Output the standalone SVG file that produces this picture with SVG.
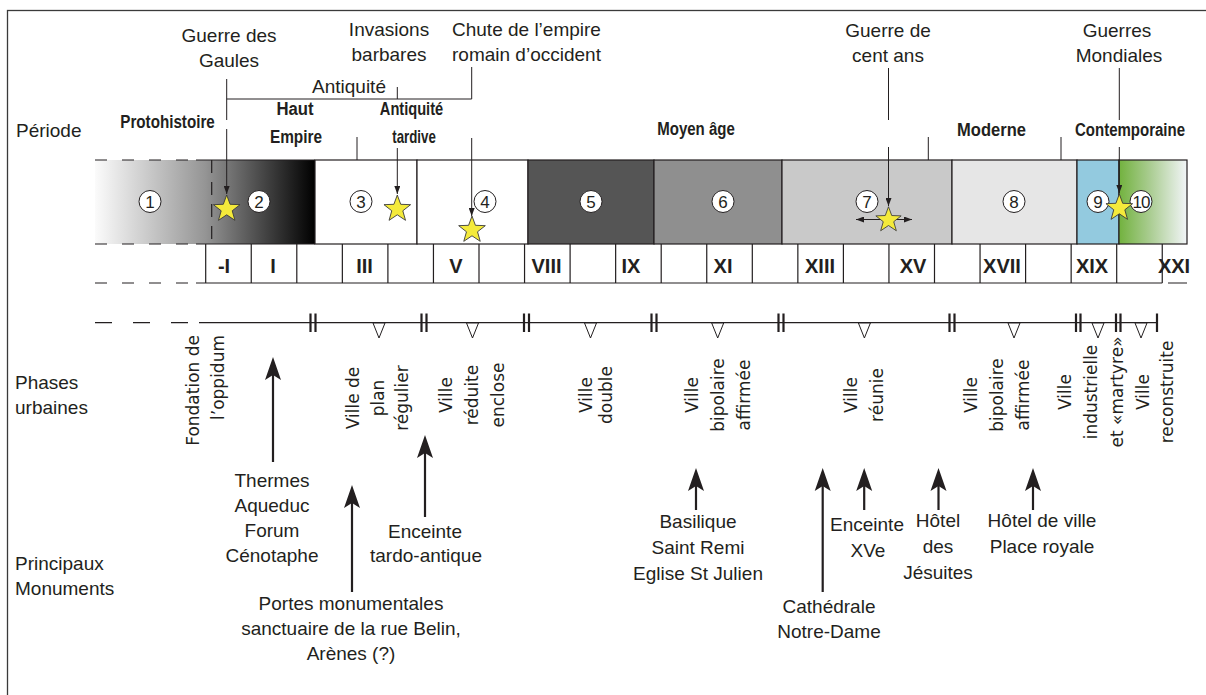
<svg xmlns="http://www.w3.org/2000/svg" width="1206" height="695" viewBox="0 0 1206 695">
<style>
 .t{font-family:"Liberation Sans",Arial,sans-serif;font-size:19px;fill:#231f20}
 .c{text-anchor:middle}
 .b{font-family:"Liberation Sans",Arial,sans-serif;font-weight:bold;font-size:19px;fill:#231f20;text-anchor:middle}
 .cen{font-family:"Liberation Sans",Arial,sans-serif;font-weight:bold;font-size:20px;fill:#231f20;text-anchor:middle}
 .v{font-family:"DejaVu Sans",sans-serif;font-size:17px;fill:#231f20;text-anchor:middle}
 .num{font-family:"Liberation Sans",Arial,sans-serif;font-size:17px;fill:#231f20;text-anchor:middle}
 .ln{stroke:#231f20;stroke-width:1;fill:none}
 .box{stroke:#231f20;stroke-width:1.2}
 .dash{stroke:#231f20;stroke-width:1.2;stroke-dasharray:12 15;fill:none}
 .thick{stroke:#231f20;stroke-width:2.2;fill:none}
 .bar{stroke:#231f20;stroke-width:2.2}
 .tri{fill:#fff;stroke:#231f20;stroke-width:1}
 .circ{fill:#fff;stroke:#231f20;stroke-width:1}
 .star{fill:#f4ea3b;stroke:#3a3a3a;stroke-width:0.9}
 .head{fill:#231f20}
</style>
<defs>
 <linearGradient id="gProto" x1="95" y1="0" x2="315" y2="0" gradientUnits="userSpaceOnUse">
  <stop offset="0" stop-color="#fbfbfb"/><stop offset="0.5" stop-color="#959595"/><stop offset="1" stop-color="#000"/>
 </linearGradient>
 <linearGradient id="gContemp" x1="1119" y1="0" x2="1187" y2="0" gradientUnits="userSpaceOnUse">
  <stop offset="0" stop-color="#72b23e"/><stop offset="0.45" stop-color="#a9cc90"/><stop offset="1" stop-color="#f2f5f8"/>
 </linearGradient>
 <path id="star" d="M0,-14 L3.41,-4.69 L13.32,-4.33 L5.52,1.79 L8.23,11.33 L0,5.8 L-8.23,11.33 L-5.52,1.79 L-13.32,-4.33 L-3.41,-4.69 Z"/>
 <path id="head" d="M0,0 L8,23 L0,18 L-8,23 Z"/>
 <marker id="sa" markerUnits="userSpaceOnUse" markerWidth="8" markerHeight="6" viewBox="0 0 8 6" refX="8" refY="3" orient="auto-start-reverse">
  <path d="M0,0 L8,3 L0,6 Z" fill="#231f20"/>
 </marker>
</defs>

<rect id="frame" x="7.5" y="10.5" width="1210" height="700" fill="#fff" stroke="#3a3a3a" stroke-width="1.3"/>

<g id="left-labels" class="t">
 <text x="16" y="137">Période</text>
 <text x="15" y="389">Phases</text>
 <text x="15" y="414">urbaines</text>
 <text x="15" y="570">Principaux</text>
 <text x="15" y="595">Monuments</text>
</g>

<g id="events" class="t c">
 <text x="229" y="41.5">Guerre des</text>
 <text x="229" y="66.5">Gaules</text>
 <text x="389" y="36">Invasions</text>
 <text x="389" y="61">barbares</text>
 <text x="452" y="36" style="text-anchor:start">Chute de l’empire</text>
 <text x="452" y="61" style="text-anchor:start">romain d’occident</text>
 <text x="349" y="92.5">Antiquité</text>
 <text x="888" y="37">Guerre de</text>
 <text x="888" y="62">cent ans</text>
 <text x="1117" y="37">Guerres</text>
 <text x="1119" y="62">Mondiales</text>
</g>

<g id="periods" class="b">
 <text transform="translate(167.5,128) scale(0.8,1)">Protohistoire</text>
 <text transform="translate(295,115) scale(0.88,1)">Haut</text>
 <text transform="translate(296,143) scale(0.81,1)">Empire</text>
 <text transform="translate(411.5,115) scale(0.77,1)">Antiquité</text>
 <text transform="translate(414,143) scale(0.7,1)">tardive</text>
 <text transform="translate(696,135) scale(0.79,1)">Moyen âge</text>
 <text transform="translate(991.5,136) scale(0.87,1)">Moderne</text>
 <text transform="translate(1130,136) scale(0.79,1)">Contemporaine</text>
</g>

<g id="band">
 <rect x="95" y="160" width="220" height="84" fill="url(#gProto)"/>
 <path class="ln" d="M196,160 H315 M196,244 H315" style="stroke-width:1.2"/>
 <path class="dash" d="M95,160 H196 M95,244 H196 M95,283 H196"/>
 <path class="ln" d="M211.7,160 V244" style="stroke-dasharray:13 9;stroke-width:1.2"/>
 <rect class="box" x="315" y="160" width="102" height="84" fill="#fff"/>
 <rect class="box" x="417" y="160" width="111" height="84" fill="#fff"/>
 <rect class="box" x="528" y="160" width="126" height="84" fill="#555"/>
 <rect class="box" x="654" y="160" width="128" height="84" fill="#8f8f8f"/>
 <rect class="box" x="782" y="160" width="170" height="84" fill="#c9c9c9"/>
 <rect class="box" x="952" y="160" width="125" height="84" fill="#e6e6e6"/>
 <rect class="box" x="1077" y="160" width="42" height="84" fill="#93cadf"/>
 <rect class="box" x="1119" y="160" width="68" height="84" fill="url(#gContemp)"/>
</g>

<g id="numbers">
 <g class="circ">
  <circle cx="150" cy="201.5" r="11"/><circle cx="259" cy="201.5" r="11"/><circle cx="361" cy="201.5" r="11"/>
  <circle cx="485" cy="201.5" r="11"/><circle cx="591" cy="201.5" r="11"/><circle cx="723" cy="201.5" r="11"/>
  <circle cx="867" cy="201.5" r="11"/><circle cx="1014" cy="201.5" r="11"/><circle cx="1098" cy="201.5" r="11"/>
  <circle cx="1141" cy="201.5" r="11"/>
 </g>
 <g class="num">
  <text x="150" y="207.5">1</text><text x="259" y="207.5">2</text><text x="361" y="207.5">3</text>
  <text x="485" y="207.5">4</text><text x="591" y="207.5">5</text><text x="723" y="207.5">6</text>
  <text x="867" y="207.5">7</text><text x="1014" y="207.5">8</text><text x="1098" y="207.5">9</text>
  <text x="1141" y="207.5" letter-spacing="-1">10</text>
 </g>
</g>

<g id="centuries">
 <path class="ln" style="stroke-width:1.2" d="M196,283 H1162.3 M1168,283 H1187 M205.7,244 V283 M251.25,244 V283 M296.8,244 V283 M342.35,244 V283 M387.9,244 V283 M433.45,244 V283 M479,244 V283 M524.55,244 V283 M570.1,244 V283 M615.65,244 V283 M661.2,244 V283 M706.75,244 V283 M752.3,244 V283 M797.85,244 V283 M843.4,244 V283 M888.95,244 V283 M934.5,244 V283 M980.05,244 V283 M1025.6,244 V283 M1071.15,244 V283 M1116.7,244 V283 M1162.25,244 V283"/>
 <g class="cen">
  <text x="224" y="273">-I</text><text x="273" y="273">I</text><text x="364.5" y="273">III</text>
  <text x="456" y="273">V</text><text x="546.5" y="273">VIII</text><text x="631" y="273">IX</text>
  <text x="723" y="273">XI</text><text x="820" y="273">XIII</text><text x="913" y="273">XV</text>
  <text x="1002" y="273">XVII</text><text x="1092" y="273">XIX</text><text x="1174" y="273">XXI</text>
 </g>
</g>

<g id="event-connectors" class="ln">
 <path d="M226.7,79 V120 M226.7,99 H471.7 M397.3,87 V99 M471.7,67 V99 M357,137 V160 M928.3,137 V160 M1061,137 V160 M888.5,68 V120 M1119.3,68 V120"/>
 <path d="M226.7,129 V194" marker-end="url(#sa)"/>
 <path d="M397.3,148 V194" marker-end="url(#sa)"/>
 <path d="M471.7,138 V216" marker-end="url(#sa)"/>
 <path d="M888.5,147 V206" marker-end="url(#sa)"/>
 <path d="M1119.3,147 V193" marker-end="url(#sa)"/>
 <path d="M856,219.5 H912" marker-start="url(#sa)" marker-end="url(#sa)"/>
</g>

<g id="stars" class="star">
 <use href="#star" transform="translate(226.7,209)"/>
 <use href="#star" transform="translate(397.3,209)"/>
 <use href="#star" transform="translate(472,230)"/>
 <use href="#star" transform="translate(888.5,220) scale(0.95)"/>
 <use href="#star" transform="translate(1119.3,208)"/>
</g>

<g id="phases-line">
 <path class="ln" style="stroke-width:1.2;stroke-dasharray:17 21" d="M95,322.7 H192"/>
 <path class="ln" style="stroke-width:1.2" d="M199,322.7 H1157"/>
 <path class="bar" d="M310.5,313.5 V332 M315.5,313.5 V332 M421.5,313.5 V332 M426.5,313.5 V332 M524,313.5 V332 M529,313.5 V332 M651.5,313.5 V332 M656.5,313.5 V332 M778.5,313.5 V332 M783.5,313.5 V332 M949.5,313.5 V332 M954.5,313.5 V332 M1076,313.5 V332 M1080.5,313.5 V332 M1116,313.5 V332 M1120.5,313.5 V332 M1157,313.5 V332"/>
 <g class="tri">
  <path d="M373,323 H385 L379,338 Z"/><path d="M466.5,323 H478.5 L472.5,338 Z"/>
  <path d="M584.5,323 H596.5 L590.5,338 Z"/><path d="M711.7,323 H723.7 L717.7,338 Z"/>
  <path d="M858.4,323 H870.4 L864.4,338 Z"/><path d="M1008,323 H1020 L1014,338 Z"/>
  <path d="M1092,323 H1104 L1098,338 Z"/><path d="M1135,323 H1147 L1141,338 Z"/>
 </g>
</g>

<g id="phases" class="v">
 <text transform="translate(199,335) rotate(-90)" style="text-anchor:end"><tspan x="0" y="0">Fondation de</tspan><tspan x="0" y="25">l’oppidum</tspan></text>
 <text transform="translate(359,398) rotate(-90)"><tspan x="0" y="0">Ville de</tspan><tspan x="0" y="25">plan</tspan><tspan x="0" y="49">régulier</tspan></text>
 <text transform="translate(452,395) rotate(-90)"><tspan x="0" y="0">Ville</tspan><tspan x="0" y="26">réduite</tspan><tspan x="0" y="52">enclose</tspan></text>
 <text transform="translate(592,395) rotate(-90)"><tspan x="0" y="0">Ville</tspan><tspan x="0" y="20">double</tspan></text>
 <text transform="translate(698,395) rotate(-90)"><tspan x="0" y="0">Ville</tspan><tspan x="0" y="26">bipolaire</tspan><tspan x="0" y="52">affirmée</tspan></text>
 <text transform="translate(857,395) rotate(-90)"><tspan x="0" y="0">Ville</tspan><tspan x="0" y="26">réunie</tspan></text>
 <text transform="translate(977,395) rotate(-90)"><tspan x="0" y="0">Ville</tspan><tspan x="0" y="26">bipolaire</tspan><tspan x="0" y="52">affirmée</tspan></text>
 <text transform="translate(1071,392) rotate(-90)"><tspan x="0" y="0">Ville</tspan><tspan x="0" y="26">industrielle</tspan><tspan x="0" y="52">et «martyre»</tspan></text>
 <text transform="translate(1149,392) rotate(-90)"><tspan x="0" y="0">Ville</tspan><tspan x="0" y="24">reconstruite</tspan></text>
</g>

<g id="monument-arrows">
 <path class="thick" d="M273,372 V462 M352,500 V592 M425,450 V517 M696,483 V510 M822.7,483 V592 M864.2,483 V510 M938.5,483 V510 M1033,483 V510"/>
 <g class="head">
  <use href="#head" transform="translate(273,357)"/>
  <use href="#head" transform="translate(352,485)"/>
  <use href="#head" transform="translate(425,435)"/>
  <use href="#head" transform="translate(696,468)"/>
  <use href="#head" transform="translate(822.7,468)"/>
  <use href="#head" transform="translate(864.2,468)"/>
  <use href="#head" transform="translate(938.5,468)"/>
  <use href="#head" transform="translate(1033,468)"/>
 </g>
</g>

<g id="monuments" class="t c">
 <text x="272" y="487">Thermes</text><text x="272" y="512">Aqueduc</text><text x="272" y="537">Forum</text><text x="272" y="562">Cénotaphe</text>
 <text x="351" y="610">Portes monumentales</text><text x="351" y="635">sanctuaire de la rue Belin,</text><text x="351" y="660">Arènes (?)</text>
 <text x="425" y="538">Enceinte</text><text x="426" y="562">tardo-antique</text>
 <text x="698" y="528">Basilique</text><text x="698" y="554">Saint Remi</text><text x="698" y="580">Eglise St Julien</text>
 <text x="829" y="613">Cathédrale</text><text x="829" y="638">Notre-Dame</text>
 <text x="867" y="531">Enceinte</text><text x="868" y="557">XVe</text>
 <text x="938" y="527">Hôtel</text><text x="938" y="553">des</text><text x="938" y="579">Jésuites</text>
 <text x="1042" y="527">Hôtel de ville</text><text x="1042" y="553">Place royale</text>
</g>
</svg>
